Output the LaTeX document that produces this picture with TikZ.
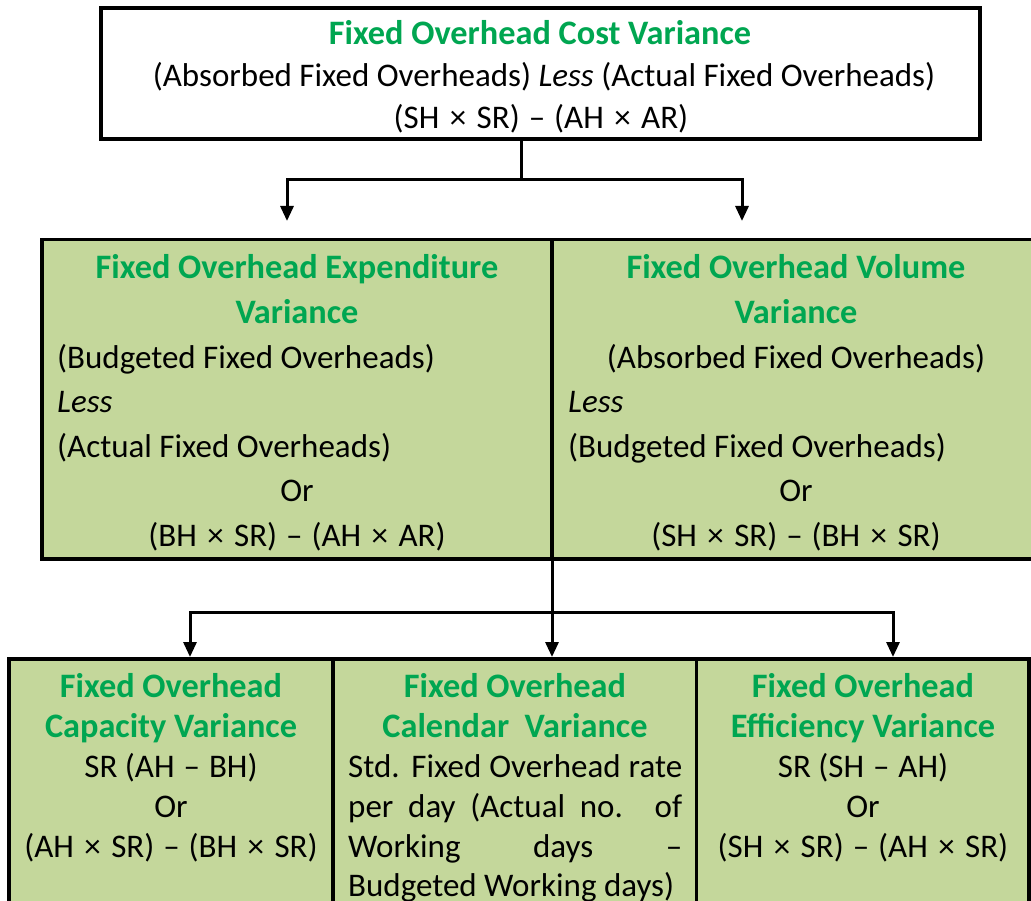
\documentclass[tikz,border=0pt]{standalone}
\usepackage{fontspec}
\setmainfont{Carlito}
\usetikzlibrary{arrows.meta}
\definecolor{titlegreen}{RGB}{0,166,81}
\definecolor{boxfill}{RGB}{196,215,155}
\newcommand{\tms}{~\kern3pt×\kern3pt~}
\newcommand{\mns}{~\kern1.5pt–\kern1.5pt~}
\begin{document}
\begin{tikzpicture}[x=1pt,y=-1pt,
  box/.style={draw, line width=3.5pt, fill=boxfill, inner sep=0pt, outer sep=0pt},
  ttl/.style={font=\fontsize{34.3}{34}\selectfont\bfseries, text=titlegreen, anchor=base, inner sep=0pt},
  txt/.style={font=\fontsize{33}{33}\selectfont, anchor=base, inner sep=0pt},
  txtl/.style={txt, anchor=base west},
  conn/.style={line width=3pt},
  arr/.style={conn, -{Triangle[width=13pt,length=15pt]}}
]
\fill[white] (0,0) rectangle (1031,901);
\useasboundingbox (0,0) rectangle (1031,901);
\clip (0,0) rectangle (1031,901);

% boxes
\node[draw, line width=4pt, fill=white, inner sep=0pt, outer sep=0pt,
      minimum width=879pt, minimum height=131pt] (top) at (540.5,74) {};
\node[box, minimum width=510pt, minimum height=319.5pt] (midL) at (297,399.25) {};
\node[box, minimum width=488pt, minimum height=319.5pt] (midR) at (796,399.25) {};
\node[box, minimum width=324pt, minimum height=301pt] (botL) at (171,809.5) {};
\node[box, minimum width=363.5pt, minimum height=301pt] (botM) at (514.75,809.5) {};
\node[box, minimum width=332.5pt, minimum height=301pt] (botR) at (862.75,809.5) {};

% connectors
\coordinate (j1) at (521.5,180);
\coordinate (a1) at (287,221);
\coordinate (a2) at (742,221);
\draw[conn] (top.south -| j1) -- (j1);
\draw[arr] (j1) -| (a1);
\draw[arr] (j1) -| (a2);

\coordinate (j2) at (552,612);
\coordinate (c1) at (190,657);
\coordinate (c2) at (552,657);
\coordinate (c3) at (893,657);
\draw[conn] (midL.south east) -- (j2);
\draw[arr] (j2) -| (c1);
\draw[arr] (j2) -- (c2);
\draw[arr] (j2) -| (c3);

% top text
\node[ttl] (t1) at (540,45) {Fixed Overhead Cost Variance};
\node[txt] (t2) at (544,87) {(Absorbed Fixed Overheads) \textit{Less} (Actual Fixed Overheads)};
\node[txt] (t3) at (541,129) {(SH\tms SR)\mns(AH\tms AR)};

% middle left
\node[ttl] (e1) at (297,279) {Fixed Overhead Expenditure};
\node[ttl] (e2) at (297,324) {Variance};
\node[txtl] (e3) at (57,368) {(Budgeted Fixed Overheads)};
\node[txtl] (e4) at (57,412) {\textit{Less}};
\node[txtl] (e5) at (57,457) {(Actual Fixed Overheads)};
\node[txt] (e6) at (297,501) {Or};
\node[txt] (e7) at (297,546) {(BH\tms SR)\mns(AH\tms AR)};

% middle right
\node[ttl] (v1) at (796,279) {Fixed Overhead Volume};
\node[ttl] (v2) at (796,324) {Variance};
\node[txt] (v3) at (796,368) {(Absorbed Fixed Overheads)};
\node[txtl] (v4) at (568,412) {\textit{Less}};
\node[txtl] (v5) at (568,457) {(Budgeted Fixed Overheads)};
\node[txt] (v6) at (796,501) {Or};
\node[txt] (v7) at (796,546) {(SH\tms SR)\mns(BH\tms SR)};

% bottom left
\node[ttl] (p1) at (171,697) {Fixed Overhead};
\node[ttl] (p2) at (171,737) {Capacity Variance};
\node[txt] (p3) at (171,777) {SR (AH\mns BH)};
\node[txt] (p4) at (171,817) {Or};
\node[txt] (p5) at (171,857) {(AH\tms SR)\mns(BH\tms SR)};

% bottom middle
\node[ttl] (k1) at (515,697) {Fixed Overhead};
\node[ttl] (k2) at (515,737) {Calendar~ Variance};
\node[txtl] (k3) at (348,777) {\makebox[334pt][s]{Std. Fixed Overhead rate}};
\node[txtl] (k4) at (348,817) {\makebox[334pt][s]{per day (Actual no. of}};
\node[txtl] (k5) at (348,857) {\makebox[334pt][s]{Working days –}};
\node[txtl] (k6) at (348,896) {Budgeted Working days)};

% bottom right
\node[ttl] (f1) at (863,697) {Fixed Overhead};
\node[ttl] (f2) at (863,737) {Efficiency Variance};
\node[txt] (f3) at (863,777) {SR (SH\mns AH)};
\node[txt] (f4) at (863,817) {Or};
\node[txt] (f5) at (863,857) {(SH\tms SR)\mns(AH\tms SR)};
\end{tikzpicture}
\end{document}
